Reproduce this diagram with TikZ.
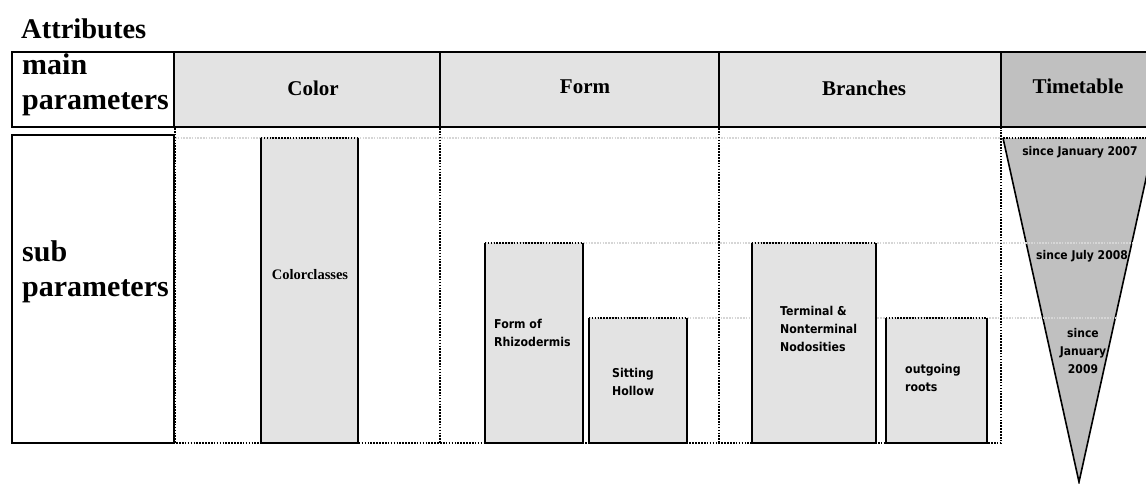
\documentclass[tikz,border=0pt]{standalone}
\usepackage{fontspec}
\setmainfont{Liberation Serif}
\newfontfamily\labfont{DejaVu Sans}[FakeStretch=0.9]
\definecolor{boxgray}{HTML}{E3E3E3}
\definecolor{timegray}{HTML}{C0C0C0}
\definecolor{guidegray}{HTML}{D6D6D6}
\begin{document}
\begin{tikzpicture}[x=1pt,y=-1pt,
  hcell/.style={draw=black,line width=1.8pt,fill=boxgray,minimum height=75pt,inner sep=0pt},
  htext/.style={font=\fontsize{21}{25}\selectfont\bfseries,inner sep=0pt},
  bigtext/.style={font=\fontsize{30}{35}\selectfont\bfseries,align=left,inner sep=0pt,anchor=west},
  subbox/.style={fill=boxgray,inner sep=0pt},
  boxedge/.style={draw=black,line width=1.8pt},
  blackdot/.style={draw=black,line width=1.7pt,dash pattern=on 1.6pt off 1.3pt},
  guide/.style={draw=guidegray,line width=1.5pt,dash pattern=on 1.5pt off 1.3pt},
  lab/.style={font=\labfont\bfseries\fontsize{12.2}{18}\selectfont,inner sep=0pt,align=left},
  tlab/.style={font=\labfont\bfseries\fontsize{12}{18}\selectfont,inner sep=0pt,align=center}]
\useasboundingbox (0,0) rectangle (1146,483);
\clip (0,0) rectangle (1146,483);

% title
\node[font=\fontsize{28.5}{32}\selectfont\bfseries,inner sep=0pt,anchor=west] (title) at (21,29) {Attributes};

% header row
\node[hcell,fill=white,minimum width=162pt] (hmain) at (93,89.5) {};
\node[hcell,minimum width=266pt] (hcolor) at (307,89.5) {};
\node[hcell,minimum width=279pt] (hform) at (579.5,89.5) {};
\node[hcell,minimum width=282pt] (hbranch) at (860,89.5) {};
\node[hcell,fill=timegray,minimum width=160pt] (htime) at (1081,89.5) {};

\node[bigtext] (tmain) at (22,85) {main\\parameters};
\node[htext] (tcolor) at (313,88) {Color};
\node[htext] (tform) at (585,87) {Form};
\node[htext] (tbranch) at (864,88) {Branches};
\node[htext] (ttime) at (1078,86) {Timetable};

% sub row left box
\node[draw=black,line width=1.8pt,minimum width=162pt,minimum height=308pt,inner sep=0pt] (hsub) at (93,289) {};
\node[bigtext] (tsub) at (22,272) {sub\\parameters};

% timetable triangle
\coordinate (tl) at (1003,138);
\coordinate (tr) at (1155,138);
\coordinate (tip) at (1079,482);
\fill[timegray] (tl) -- (tr) -- (tip) -- cycle;
\draw[boxedge,line width=1.6pt] (tl) -- (tip) -- (tr);
\draw[blackdot] (tl) -- (tr);

% dotted column frames
\coordinate (c0t) at (175,128);
\coordinate (c0b) at (175,443);
\coordinate (c3t) at (1001,128);
\coordinate (c3b) at (1001,443);
\coordinate (c1t) at (440,128);
\coordinate (c1b) at (440,443);
\coordinate (c2t) at (719,128);
\coordinate (c2b) at (719,443);
\draw[guide] (175,138) -- (1001,138);
\draw[guide] (485,243) -- (1134,243);
\draw[guide] (589,318) -- (1118,318);
\draw[blackdot] (c0t) -- (c0b) -- (c3b) -- (c3t);
\draw[blackdot] (c1t) -- (c1b);
\draw[blackdot] (c2t) -- (c2b);

% sub boxes
\node[subbox,minimum width=97pt,minimum height=305pt] (cc) at (309.5,290.5) {};
\node[subbox,minimum width=98pt,minimum height=200pt] (rh) at (534,343) {};
\node[subbox,minimum width=98pt,minimum height=125pt] (sh) at (638,380.5) {};
\node[subbox,minimum width=124pt,minimum height=200pt] (tn) at (814,343) {};
\node[subbox,minimum width=101pt,minimum height=125pt] (og) at (936.5,380.5) {};
\foreach \b in {cc,rh,sh,tn,og}{
  \draw[boxedge] (\b.north west) |- (\b.south east) -- (\b.north east);
  \draw[blackdot] (\b.north west) -- (\b.north east);
}

% labels
\node[font=\fontsize{14.5}{18}\selectfont\bfseries,inner sep=0pt] (lcc) at (310,275) {Colorclasses};
\node[lab,anchor=west] (lrh) at (494,333) {Form of\\Rhizodermis};
\node[lab,anchor=west] (lsh) at (612,382) {Sitting\\Hollow};
\node[lab,anchor=west] (ltn) at (780,329) {Terminal \&\\Nonterminal\\Nodosities};
\node[lab,anchor=west] (log) at (905,378) {outgoing\\roots};

\node[tlab] (t1) at (1080,152) {since January 2007};
\node[tlab] (t2) at (1082,256) {since July 2008};
\node[tlab] (t3) at (1083,351) {since\\January\\2009};
\end{tikzpicture}
\end{document}
